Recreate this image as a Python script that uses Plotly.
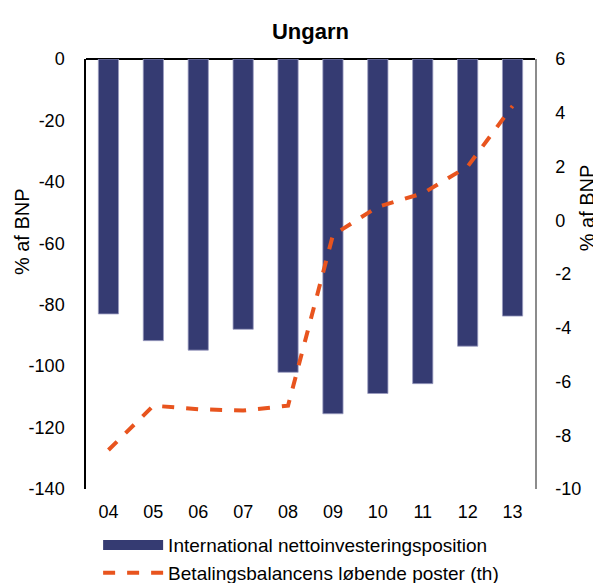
import plotly.graph_objects as go

years = ["04", "05", "06", "07", "08", "09", "10", "11", "12", "13"]
niip = [-83.0, -91.7, -94.8, -88.0, -102.0, -115.5, -108.9, -105.7, -93.5, -83.7]
current_account = [-8.55, -6.9, -7.03, -7.08, -6.9, -0.55, 0.5, 1.0, 2.0, 4.25]
left_ticks = [0, -20, -40, -60, -80, -100, -120, -140]
right_ticks = [6, 4, 2, 0, -2, -4, -6, -8, -10]

NAVY = "#353B72"
ORANGE = "#E8541E"
FONT = "Liberation Sans, Arial, sans-serif"

fig = go.Figure()
fig.add_trace(go.Bar(x=years, y=niip, name="International nettoinvesteringsposition",
                     marker={"color": NAVY, "line": {"color": "#9A9CC0", "width": 0.8}},
                     width=0.45, showlegend=False))
# legend entry drawn as a wide band like the original
fig.add_trace(go.Scatter(x=[None], y=[None], mode="lines",
                         name="International nettoinvesteringsposition",
                         line={"color": NAVY, "width": 13}))
fig.add_trace(go.Scatter(x=years, y=current_account, yaxis="y2", mode="lines",
                         name="Betalingsbalancens løbende poster (th)",
                         line={"color": ORANGE, "width": 4, "dash": "dash"}))

# axis titles sit above the plot centre in the original, so use annotations
for x, y in [(-0.142, 0.598), (1.116, 0.653)]:
    fig.add_annotation(text="% af BNP", textangle=-90, showarrow=False,
                       xref="paper", yref="paper", x=x, y=y,
                       xanchor="center", yanchor="middle", font={"size": 20})

# page has an 8px body margin, so the figure is drawn 8px smaller
fig.update_layout(
    width=593, height=575,
    margin={"l": 78, "r": 66, "t": 51, "b": 94},
    paper_bgcolor="white", plot_bgcolor="white",
    font={"family": FONT, "size": 18, "color": "black"},
    title={"text": "<b>Ungarn</b>", "x": 0.51, "xanchor": "center",
           "y": 0.96, "yanchor": "middle", "font": {"size": 22}},
    xaxis={"type": "category", "range": [-0.5, 9.5], "showline": False,
           "ticks": "", "showgrid": False, "ticklabelstandoff": 10,
           "automargin": False},
    yaxis={"range": [-140, 0], "showgrid": False,
           "tickvals": left_ticks, "ticktext": [str(v) for v in left_ticks],
           "showline": True, "linecolor": "black", "linewidth": 1.5,
           "zeroline": True, "zerolinecolor": "black", "zerolinewidth": 2,
           "ticks": "", "ticklabelstandoff": 16, "automargin": False},
    yaxis2={"range": [-10, 6], "overlaying": "y", "side": "right",
            "tickvals": right_ticks, "ticktext": [str(v) for v in right_ticks],
            "showgrid": False, "zeroline": False, "showline": True,
            "linecolor": "#8C8C8C", "linewidth": 1.5, "ticks": "",
            "ticklabelstandoff": 15, "automargin": False},
    legend={"x": 0.027, "y": 0.099, "xanchor": "left", "yanchor": "top",
            "yref": "container", "orientation": "v", "font": {"size": 19},
            "itemwidth": 60, "tracegroupgap": 0, "bgcolor": "rgba(0,0,0,0)"},
)

fig.write_html("out.html")
